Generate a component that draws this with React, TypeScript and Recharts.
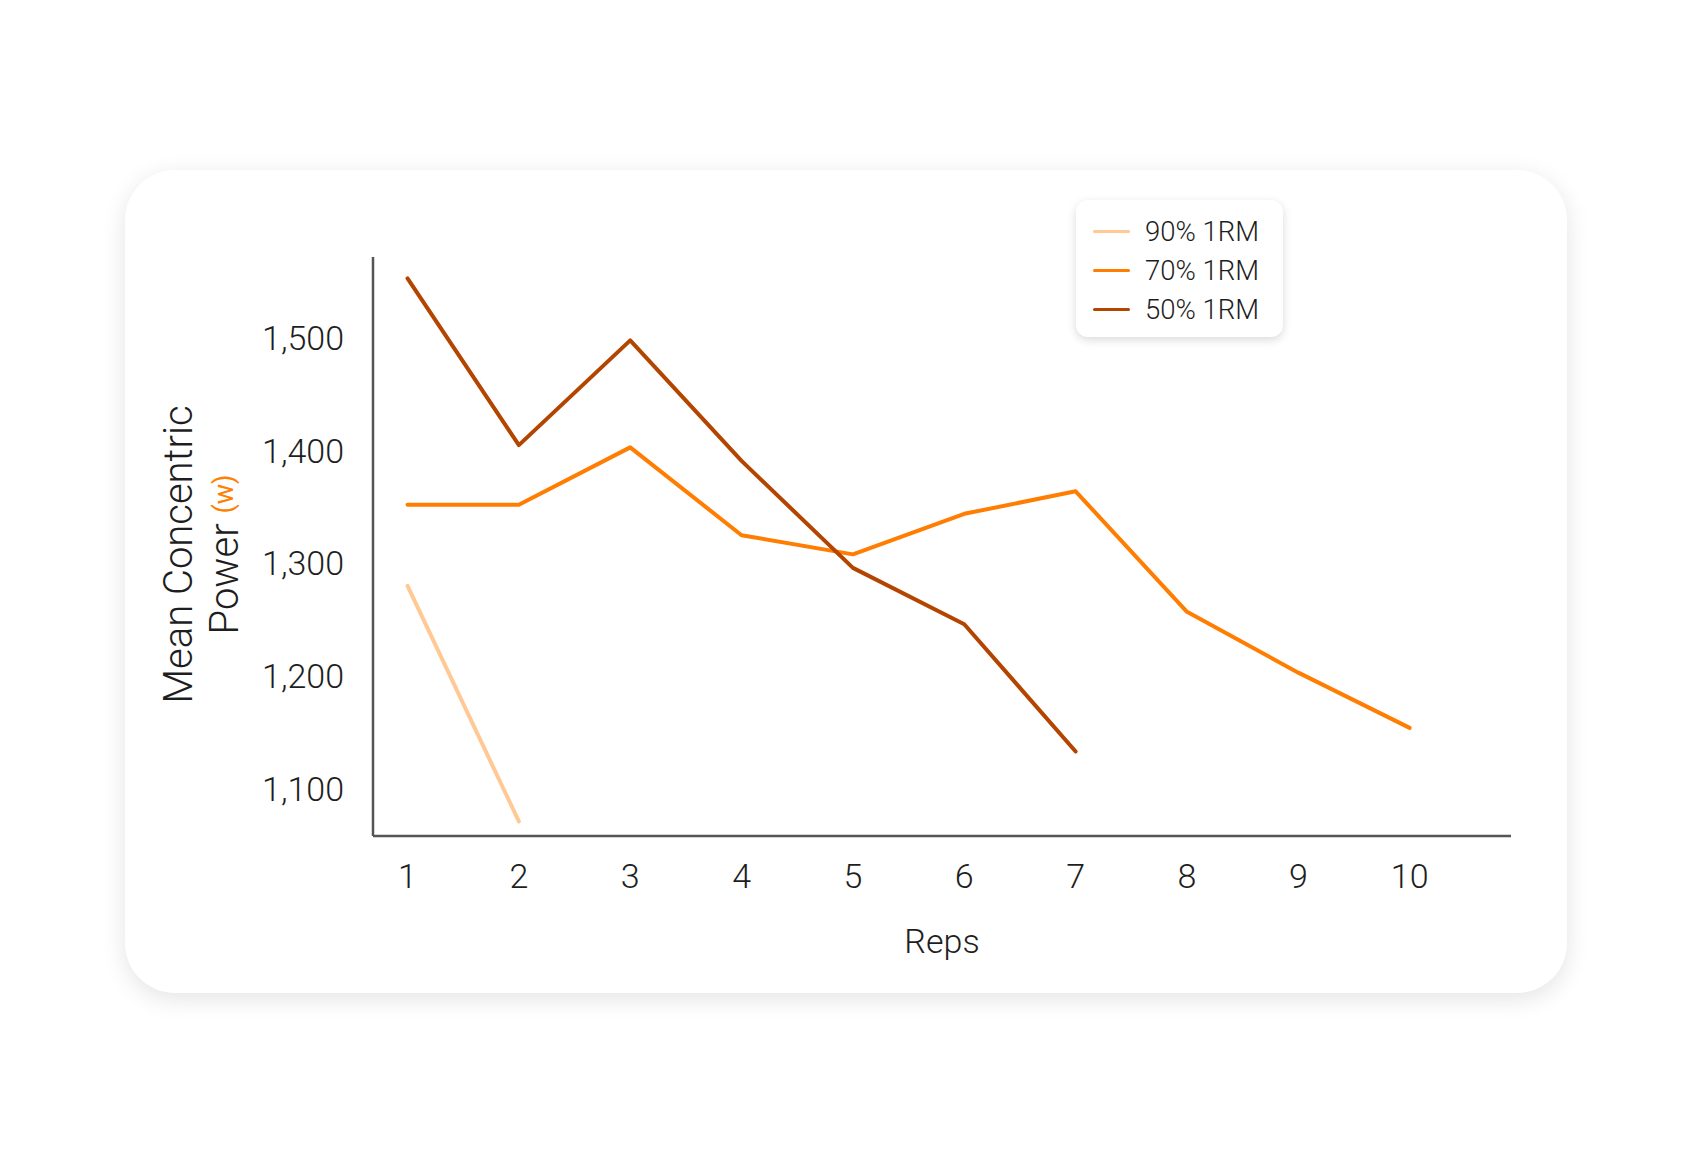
import React from 'react';
import { LineChart, Line, XAxis, YAxis, Legend } from 'recharts';

// reps on the x axis
const reps = [1, 2, 3, 4, 5, 6, 7, 8, 9, 10];

// mean concentric power (W) per rep
const power90 = [1280, 1071];
const power70 = [1352, 1352, 1403, 1325, 1308, 1344, 1364, 1257, 1203, 1154];
const power50 = [1553, 1405, 1498, 1391, 1296, 1246, 1133];

const yTicks = [1100, 1200, 1300, 1400, 1500];

const series = [
  { key: 'p90', name: '90% 1RM', color: '#FFC996' },
  { key: 'p70', name: '70% 1RM', color: '#FF7D00' },
  { key: 'p50', name: '50% 1RM', color: '#B44500' },
];

const data = reps.map((rep, i) => ({
  rep,
  p90: power90[i],
  p70: power70[i],
  p50: power50[i],
}));

const FONT = 'Roboto, "Open Sans", sans-serif';
const TEXT = '#1e1e1e';

const YTitle = (props: any) => {
  const vb = props.viewBox || { x: 0, y: 0, width: 0, height: 0 };
  const cy = vb.y + vb.height / 2 + 8;
  const x1 = vb.x + 53;
  const x2 = vb.x + 99;
  return (
    <g fontFamily={FONT} fontWeight={300} fill={TEXT}>
      <text x={x1} y={cy} transform={`rotate(-90, ${x1}, ${cy})`} textAnchor="middle" dominantBaseline="central" fontSize={40}>
        Mean Concentric
      </text>
      <text x={x2} y={cy} transform={`rotate(-90, ${x2}, ${cy})`} textAnchor="middle" dominantBaseline="central" fontSize={40}>
        Power{' '}
        <tspan fill="#FF8000" fontSize={27} fontWeight={400}>(w)</tspan>
      </text>
    </g>
  );
};

const XTitle = (props: any) => {
  const vb = props.viewBox || { x: 0, y: 0, width: 0, height: 0 };
  return (
    <text
      x={vb.x + vb.width / 2}
      y={vb.y + 105}
      textAnchor="middle"
      dominantBaseline="central"
      fontFamily={FONT}
      fontWeight={300}
      fontSize={34}
      fill={TEXT}
    >
      Reps
    </text>
  );
};

const LegendBox = () => (
  <div
    style={{
      background: '#fff',
      borderRadius: 12,
      boxShadow: '0 3px 10px rgba(0,0,0,0.15)',
      padding: '12px 0 8px 17px',
      width: 207,
      boxSizing: 'border-box',
      fontFamily: FONT,
    }}
  >
    {series.map((s) => (
      <div key={s.key} style={{ display: 'flex', alignItems: 'center', height: 39 }}>
        <span style={{ display: 'inline-block', width: 37, height: 3.5, background: s.color, borderRadius: 2, marginRight: 15 }} />
        <span style={{ fontSize: 27.5, fontWeight: 300, color: TEXT, lineHeight: 1 }}>{s.name}</span>
      </div>
    ))}
  </div>
);

export default function App() {
  return (
    <div style={{ position: 'absolute', left: 0, top: 0, width: 1691, height: 1164, background: '#fff' }}>
      <div
        style={{
          position: 'absolute',
          left: 125,
          top: 170,
          width: 1442,
          height: 823,
          borderRadius: 50,
          background: '#fff',
          boxShadow: '0 6px 24px rgba(0,0,0,0.11)',
        }}
      >
        <LineChart width={1442} height={823} data={data} margin={{ top: 87, right: 56, bottom: 0, left: 0 }}>
          <XAxis
            dataKey="rep"
            type="number"
            domain={[0.69, 10.91]}
            ticks={reps}
            allowDataOverflow
            height={157}
            axisLine={{ stroke: '#555', strokeWidth: 2.5 }}
            tickLine={false}
            tickMargin={22}
            tick={{ fontSize: 34, fill: TEXT, fontFamily: FONT, fontWeight: 300 }}
            label={<XTitle />}
          />
          <YAxis
            type="number"
            domain={[1058, 1572]}
            ticks={yTicks}
            allowDataOverflow
            width={248}
            axisLine={{ stroke: '#555', strokeWidth: 2.5 }}
            tickLine={false}
            tickMargin={23}
            tickFormatter={(v: number) => v.toLocaleString('en-US')}
            tick={{ fontSize: 34, fill: TEXT, fontFamily: FONT, fontWeight: 300 }}
            label={<YTitle />}
          />
          <Legend
            layout="vertical"
            align="center"
            verticalAlign="middle"
            wrapperStyle={{ left: 951, top: 30, width: 207 }}
            content={() => <LegendBox />}
          />
          {series.map((s) => (
            <Line
              key={s.key}
              dataKey={s.key}
              name={s.name}
              stroke={s.color}
              strokeWidth={4}
              strokeLinejoin="round"
              strokeLinecap="round"
              dot={false}
              activeDot={false}
              isAnimationActive={false}
            />
          ))}
        </LineChart>
      </div>
    </div>
  );
}
